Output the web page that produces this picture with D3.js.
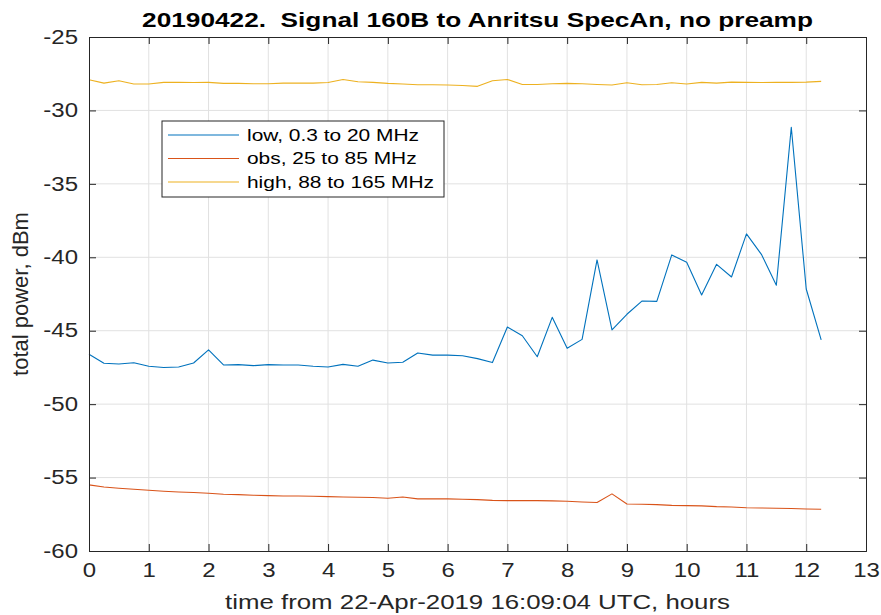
<!DOCTYPE html>
<html>
<head>
<meta charset="utf-8">
<script src="https://cdn.jsdelivr.net/npm/d3@7"></script>
<style>
  body { margin: 0; background: #fff; }
  svg text { font-family: "Liberation Sans", Arial, sans-serif; fill: #262626; white-space: pre; }
</style>
</head>
<body>
<svg id="chart" width="881" height="615"></svg>
<script>
// time axis, hours (one sample every 15 min)
const hours = d3.range(50).map(i => i * 0.25);

// total power per band, dBm
const lowBand = [-46.6, -47.22, -47.27, -47.18, -47.42, -47.5, -47.47, -47.2, -46.3, -47.33,
  -47.31, -47.38, -47.31, -47.33, -47.33, -47.42, -47.47, -47.29, -47.42, -47.0,
  -47.2, -47.15, -46.52, -46.66, -46.66, -46.7, -46.9, -47.17, -44.75, -45.34,
  -46.77, -44.09, -46.2, -45.59, -40.18, -44.95, -43.88, -42.98, -43.0, -39.84,
  -40.34, -42.57, -40.48, -41.34, -38.41, -39.8, -41.9, -31.15, -42.16, -45.63];

const obsBand = [-55.5, -55.64, -55.73, -55.8, -55.86, -55.93, -55.98, -56.02, -56.07, -56.14,
  -56.16, -56.2, -56.23, -56.25, -56.25, -56.27, -56.3, -56.32, -56.34, -56.36,
  -56.41, -56.32, -56.45, -56.45, -56.45, -56.48, -56.5, -56.55, -56.57, -56.57,
  -56.57, -56.59, -56.61, -56.66, -56.7, -56.11, -56.8, -56.82, -56.84, -56.89,
  -56.91, -56.93, -56.98, -57.0, -57.05, -57.07, -57.09, -57.11, -57.14, -57.16];

const highBand = [-27.91, -28.14, -27.98, -28.2, -28.2, -28.09, -28.09, -28.1, -28.09, -28.16,
  -28.16, -28.18, -28.18, -28.14, -28.14, -28.14, -28.1, -27.89, -28.05, -28.09,
  -28.16, -28.2, -28.25, -28.25, -28.27, -28.3, -28.36, -27.98, -27.89, -28.23,
  -28.23, -28.18, -28.16, -28.18, -28.23, -28.27, -28.11, -28.25, -28.23, -28.11,
  -28.2, -28.09, -28.14, -28.07, -28.09, -28.1, -28.09, -28.09, -28.07, -28.02];

const seriesNames = ["low, 0.3 to 20 MHz", "obs, 25 to 85 MHz", "high, 88 to 165 MHz"];
const seriesColors = ["#0072BD", "#D95319", "#EDB120"];
const xTicks = d3.range(0, 14);
const yTicks = [-60, -55, -50, -45, -40, -35, -30, -25];

const margin = {top: 37, right: 15, bottom: 64, left: 89};
const width = 881 - margin.left - margin.right;
const height = 615 - margin.top - margin.bottom;
const stretch = 1.23;   // the original figure text is drawn wide

const svg = d3.select('#chart');
const g = svg.append('g').attr('transform', `translate(${margin.left},${margin.top})`);

const x = d3.scaleLinear().domain([0, 13]).range([0, width]);
const y = d3.scaleLinear().domain([-60, -25]).range([height, 0]);

// grid
g.append('g').selectAll('line.vg')
  .data(xTicks.slice(1, -1))
  .enter().append('line')
  .attr('x1', d => x(d)).attr('x2', d => x(d))
  .attr('y1', 0).attr('y2', height)
  .style('stroke', '#e1e1e1').style('stroke-width', 1);

g.append('g').selectAll('line.hg')
  .data(yTicks.slice(1, -1))
  .enter().append('line')
  .attr('x1', 0).attr('x2', width)
  .attr('y1', d => y(d)).attr('y2', d => y(d))
  .style('stroke', '#e1e1e1').style('stroke-width', 1);

// data lines
const line = d3.line().x((d, i) => x(hours[i])).y(d => y(d));
[lowBand, obsBand, highBand].forEach((s, k) => {
  g.append('path')
    .datum(s)
    .attr('d', line)
    .style('fill', 'none')
    .style('stroke', seriesColors[k])
    .style('stroke-width', 1.1)
    .style('stroke-linejoin', 'round');
});

// axes, ticks inward on all four sides (box on)
const tickLen = 7;
const xAxis = d3.axisBottom(x).tickValues(xTicks).tickSize(-tickLen).tickPadding(12);
const yAxis = d3.axisLeft(y).tickValues(yTicks).tickSize(-tickLen).tickFormat(d => String(d));

const xa = g.append('g').attr('transform', `translate(0,${height})`).call(xAxis);
const ya = g.append('g').call(yAxis);
g.append('g').call(d3.axisTop(x).tickValues(xTicks).tickSize(-tickLen).tickFormat(''));
g.append('g').attr('transform', `translate(${width},0)`)
  .call(d3.axisRight(y).tickValues(yTicks).tickSize(-tickLen).tickFormat(''));

g.selectAll('.domain').style('stroke', '#262626').style('stroke-width', 1);
g.selectAll('.tick line').style('stroke', '#262626');
xa.selectAll('text')
  .style('font-size', '19.5px')
  .attr('dy', '0.71em')
  .attr('transform', `scale(${stretch},1)`);
ya.selectAll('text')
  .style('font-size', '19.5px')
  .attr('x', -11 / stretch)
  .attr('transform', `scale(${stretch},1)`);

// labels
svg.append('text')
  .attr('transform', `translate(${margin.left + width / 2},27) scale(1.28,1)`)
  .attr('text-anchor', 'middle')
  .style('font-size', '20.5px')
  .style('font-weight', 'bold')
  .style('fill', '#000')
  .text('20190422.  Signal 160B to Anritsu SpecAn, no preamp');

svg.append('text')
  .attr('transform', `translate(${margin.left + width / 2},609) scale(${stretch},1)`)
  .attr('text-anchor', 'middle')
  .style('font-size', '21px')
  .text('time from 22-Apr-2019 16:09:04 UTC, hours');

svg.append('text')
  .attr('transform', `translate(28,${margin.top + height / 2}) rotate(-90)`)
  .attr('text-anchor', 'middle')
  .style('font-size', '22px')
  .text('total power, dBm');

// legend
const legend = svg.append('g').attr('transform', 'translate(162,121)');
legend.append('rect')
  .attr('width', 282).attr('height', 76)
  .style('fill', '#fff').style('stroke', '#262626').style('stroke-width', 1);

const entries = legend.selectAll('.legend')
  .data(seriesNames)
  .enter().append('g')
  .attr('class', 'legend')
  .attr('transform', (d, i) => `translate(0,${14 + i * 23.5})`);

entries.append('line')
  .attr('x1', 6).attr('x2', 77)
  .style('stroke', (d, i) => seriesColors[i])
  .style('stroke-width', 1.1);

entries.append('text')
  .attr('transform', `translate(85,0) scale(${stretch},1)`)
  .attr('dy', '0.35em')
  .style('font-size', '17px')
  .style('fill', '#000')
  .text(d => d);
</script>
</body>
</html>
